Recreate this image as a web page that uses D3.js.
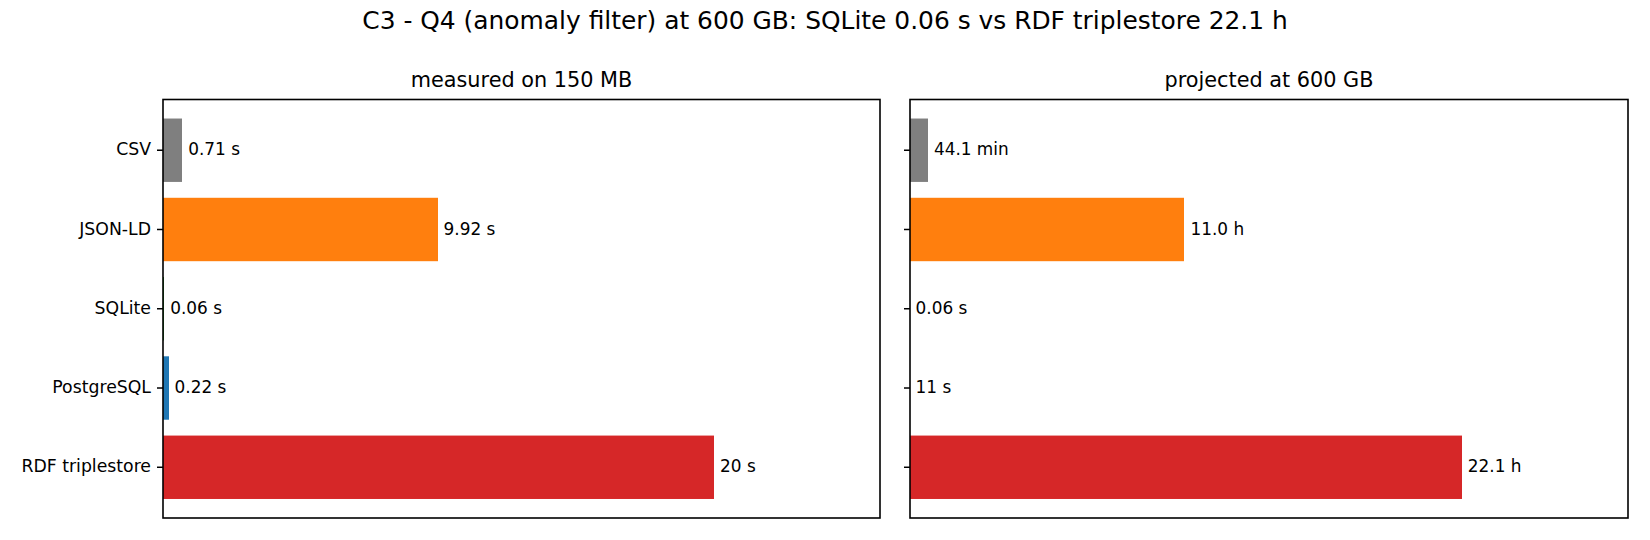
<!DOCTYPE html>
<html>
<head>
<meta charset="utf-8">
<script src="https://cdn.jsdelivr.net/npm/d3@7"></script>
<style>
  html, body { margin: 0; padding: 0; background: #fff; }
  svg { display: block; font-family: "DejaVu Sans", sans-serif; }
</style>
</head>
<body>
<svg id="chart" width="1650" height="540"></svg>
<script>
// ---- data ----
const categories = ["CSV", "JSON-LD", "SQLite", "PostgreSQL", "RDF triplestore"];
const colors = ["#7f7f7f", "#ff7f0e", "#2ca02c", "#1f77b4", "#d62728"];
// measured on 150 MB (seconds)
const measuredValues = [0.71, 9.92, 0.06, 0.22, 19.89];
const measuredLabels = ["0.71 s", "9.92 s", "0.06 s", "0.22 s", "20 s"];
// projected at 600 GB (seconds)
const projectedValues = [2646, 39600, 0.06, 11, 79560];
const projectedLabels = ["44.1 min", "11.0 h", "0.06 s", "11 s", "22.1 h"];
const mainTitle = "C3 - Q4 (anomaly filter) at 600 GB: SQLite 0.06 s vs RDF triplestore 22.1 h";
const panelTitles = ["measured on 150 MB", "projected at 600 GB"];

const svg = d3.select("#chart");
const W = 1650;

svg.append("text")
  .attr("x", W / 2).attr("y", 29)
  .attr("text-anchor", "middle")
  .attr("font-size", 24.9)
  .attr("fill", "#000")
  .text(mainTitle);

const panels = [
  { x0: 163, x1: 880, values: measuredValues, labels: measuredLabels, title: panelTitles[0], showLabels: true },
  { x0: 910, x1: 1628, values: projectedValues, labels: projectedLabels, title: panelTitles[1], showLabels: false }
];
const plotTop = 99.5, plotBottom = 518;

panels.forEach(p => {
  const g = svg.append("g");
  const maxV = d3.max(p.values);
  const x = d3.scaleLinear().domain([0, maxV * 1.3]).range([p.x0, p.x1]);
  const y = d3.scaleBand().domain(categories).range([plotTop, plotBottom])
    .paddingInner(0.2).paddingOuter(0.24);

  g.selectAll("rect.bar")
    .data(categories)
    .enter().append("rect")
    .attr("class", "bar")
    .attr("x", x(0))
    .attr("y", d => y(d))
    .attr("width", (d, i) => Math.floor(x(p.values[i]) - x(0)))
    .attr("height", y.bandwidth())
    .attr("fill", (d, i) => colors[i]);

  g.selectAll("text.val")
    .data(categories)
    .enter().append("text")
    .attr("class", "val")
    .attr("x", (d, i) => x(p.values[i] + maxV * 0.01))
    .attr("y", d => y(d) + y.bandwidth() / 2)
    .attr("dy", "0.3em")
    .attr("font-size", 16.9)
    .attr("fill", "#000")
    .text((d, i) => p.labels[i]);

  // y axis
  const yAxis = d3.axisLeft(y).tickSize(6).tickPadding(6)
    .tickFormat(p.showLabels ? (d => d) : () => "");
  const ya = g.append("g").attr("transform", `translate(${p.x0},0)`).call(yAxis);
  ya.select(".domain").remove();
  ya.selectAll(".tick line").attr("stroke", "#000").attr("stroke-width", 1.5);
  ya.selectAll(".tick text").attr("font-size", 17.3).attr("fill", "#000")
    .attr("dy", "0.3em")
    .attr("font-family", "DejaVu Sans, sans-serif");

  // frame
  g.append("rect")
    .attr("x", p.x0).attr("y", plotTop)
    .attr("width", p.x1 - p.x0).attr("height", plotBottom - plotTop)
    .attr("fill", "none").attr("stroke", "#000").attr("stroke-width", 1.6);

  g.append("text")
    .attr("x", (p.x0 + p.x1) / 2).attr("y", 87)
    .attr("text-anchor", "middle")
    .attr("font-size", 20.8)
    .attr("fill", "#000")
    .text(p.title);
});
</script>
</body>
</html>
